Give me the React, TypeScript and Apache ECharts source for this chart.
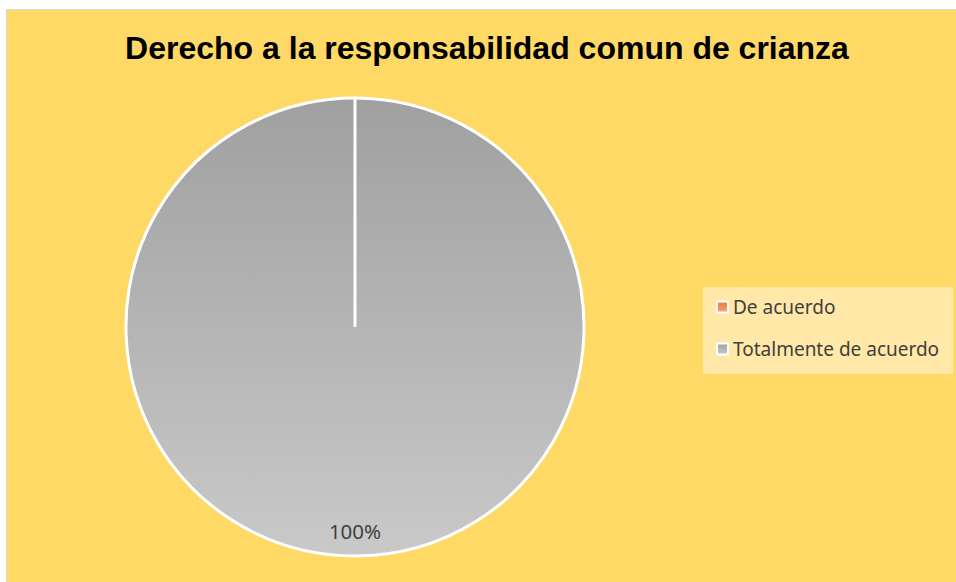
import React, { useEffect, useRef } from "react";
import * as echarts from "echarts";

const titleText = "Derecho a la responsabilidad comun de crianza";
const categories = ["De acuerdo", "Totalmente de acuerdo"];
const values = [0, 100];
const labels = ["", "100%"];

const CX = 355;
const CY = 327;
const R = 229;

export default function App() {
  const ref = useRef<HTMLDivElement>(null);
  useEffect(() => {
    if (!ref.current) return;
    const chart = echarts.init(ref.current, null, { renderer: "svg" });
    const colors = [
      new echarts.graphic.LinearGradient(0, 0, 0, 1, [
        { offset: 0, color: "#E97A3A" },
        { offset: 1, color: "#F4A57A" },
      ]),
      new echarts.graphic.LinearGradient(0, 0, 0, 1, [
        { offset: 0, color: "#A0A0A0" },
        { offset: 1, color: "#C9C9C9" },
      ]),
    ];
    chart.setOption({
      animation: false,
      backgroundColor: "transparent",
      graphic: [
        {
          type: "rect",
          z: -10,
          shape: { x: 6.5, y: 9.5, width: 956, height: 580 },
          style: { fill: "#FFD966", stroke: "#D9D9D9", lineWidth: 1 },
        },
        {
          type: "line",
          z: 100,
          shape: { x1: CX, y1: CY, x2: CX, y2: CY - R },
          style: { stroke: "#FFFFFF", lineWidth: 3 },
        },
      ],
      title: {
        text: titleText,
        left: 482,
        top: 27,
        textAlign: "center",
        textStyle: {
          fontFamily: "Liberation Sans, Arial, sans-serif",
          fontWeight: "bold",
          fontSize: 32,
          color: "#000000",
        },
      },
      legend: {
        orient: "vertical",
        left: 703,
        top: 287,
        backgroundColor: "#FFE8A8",
        padding: [8, 12, 13, 13],
        itemGap: 18,
        itemWidth: 11,
        itemHeight: 11,
        itemStyle: { borderColor: "#FFFFFF", borderWidth: 2 },
        icon: "rect",
        textStyle: {
          fontFamily: "Noto Sans, sans-serif",
          fontSize: 19,
          lineHeight: 24,
          color: "#404040",
          padding: [0, 0, 0, 0],
          width: 208,
        },
        data: categories,
      },
      series: [
        {
          type: "pie",
          center: [CX, CY],
          radius: [0, R],
          startAngle: 90,
          clockwise: true,
          avoidLabelOverlap: false,
          stillShowZeroSum: true,
          itemStyle: { borderColor: "#FFFFFF", borderWidth: 3 },
          label: {
            show: true,
            position: "inside",
            offset: [0, 86],
            fontFamily: "Noto Sans, sans-serif",
            fontSize: 20.5,
            color: "#404040",
            formatter: (p: any) => labels[p.dataIndex],
          },
          labelLine: { show: false },
          emphasis: { disabled: true },
          data: categories.map((c, i) => ({
            name: c,
            value: values[i],
            itemStyle: { color: colors[i] },
          })),
        },
      ],
    });
    return () => chart.dispose();
  }, []);
  return (
    <div
      ref={ref}
      style={{ position: "fixed", left: 0, top: 0, width: 956, height: 582, background: "#FFFFFF" }}
    />
  );
}
